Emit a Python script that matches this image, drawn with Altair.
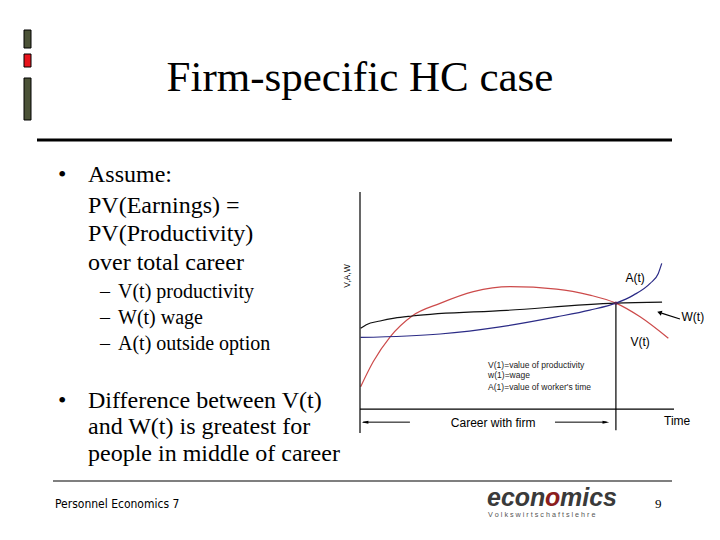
import altair as alt
import pandas as pd

# ---------------- data ----------------
v_t = [0.2, 4.2, 9.6, 16.6, 25.5, 36.1, 47.8, 62.6, 73.2, 81.5, 89.2, 98.2]
v_val = [10.3, 21.8, 33.3, 42.9, 48.7, 54.1, 56.4, 55.3, 52.5, 48.8, 42.5, 32.6]
w_t = [0.2, 2.0, 6.4, 11.0, 16.6, 46.7, 81.5, 96.2]
w_val = [37.2, 38.9, 40.6, 41.9, 42.9, 45.5, 48.8, 49.3]
a_t = [0.2, 25.5, 44.6, 62.6, 73.2, 81.5, 87.1, 92.4, 95.0, 96.1]
a_val = [33.0, 34.6, 37.9, 42.5, 45.6, 48.8, 52.5, 57.9, 62.5, 67.1]
series_names = ["V", "W", "A"]
series_colors = ["#cc4a4a", "#111111", "#2b2b86"]
retire_t = 81.5
retire_v = 48.8
legend_lines = ["V(1)=value of productivity", "w(1)=wage", "A(1)=value of worker's time"]
bullet_main = ["Assume:", "PV(Earnings) =", "PV(Productivity)", "over total career"]
bullet_sub = ["V(t) productivity", "W(t) wage", "A(t) outside option"]
bullet_end = ["Difference between V(t)", "and W(t) is greatest for", "people in middle of career"]

rows = []
for name, ts, vs in [("V", v_t, v_val), ("W", w_t, w_val), ("A", a_t, a_val)]:
    for t, v in zip(ts, vs):
        rows.append({"series": name, "t": t, "val": v})
curves_df = pd.DataFrame(rows)

# plot area on the page: x 360..674, y 192..433
PX0, PY0 = 360, 192
W, H = 314, 241
xs = alt.Scale(domain=[0, 100], nice=False, zero=False)
ys = alt.Scale(domain=[-11, 100], nice=False, zero=False)

SERIF = "Liberation Serif"
SANS = "Liberation Sans"
NARROW = "Liberation Sans Narrow, DejaVu Sans Condensed, Liberation Sans"

empty = alt.Data(values=[{}])


def px(x):
    return alt.value(x - PX0)


def py(y):
    return alt.value(y - PY0)


def XD(v):
    return alt.XDatum(v, scale=xs, axis=None)


def YD(v):
    return alt.YDatum(v, scale=ys, axis=None)


def page_text(txt, x, y, size, font=SERIF, align="left", color="black", weight="normal", style="normal", angle=0,
              baseline="alphabetic"):
    return alt.Chart(empty).mark_text(
        text=txt, font=font, fontSize=size, align=align, baseline=baseline,
        color=color, fontWeight=weight, fontStyle=style, angle=angle
    ).encode(x=px(x), y=py(y))


def data_text(txt, t, v, size=12, align="center", color="black", baseline="middle"):
    return alt.Chart(empty).mark_text(
        text=txt, font=SANS, fontSize=size, align=align, baseline=baseline, color=color
    ).encode(x=XD(t), y=YD(v))


layers = []

# curves
curves = alt.Chart(curves_df).mark_line(interpolate="monotone", strokeWidth=1.2).encode(
    x=alt.X("t:Q", scale=xs, axis=None),
    y=alt.Y("val:Q", scale=ys, axis=None),
    color=alt.Color("series:N", scale=alt.Scale(domain=series_names, range=series_colors), legend=None),
)
layers.append(curves)

# y axis line
layers.append(alt.Chart(empty).mark_rule(color="black", strokeWidth=1.2).encode(
    x=XD(0), y=YD(-11), y2=alt.Y2Datum(100)))
layers.append(page_text("V,A,W", 347, 276, 8.5, font=SANS, align="center", angle=270, baseline="middle"))
# x axis line
layers.append(alt.Chart(empty).mark_rule(color="black", strokeWidth=1.2).encode(
    x=XD(0), x2=alt.X2Datum(100), y=YD(0)))
# retirement vertical line
layers.append(alt.Chart(empty).mark_rule(color="black", strokeWidth=1.2).encode(
    x=XD(retire_t), y=YD(retire_v), y2=alt.Y2Datum(-9.7)))
# career arrows
layers.append(alt.Chart(empty).mark_rule(color="black", strokeWidth=1).encode(
    x=XD(1.0), x2=alt.X2Datum(15.9), y=YD(-6)))
layers.append(alt.Chart(empty).mark_rule(color="black", strokeWidth=1).encode(
    x=XD(62.1), x2=alt.X2Datum(78.5), y=YD(-6)))
layers.append(alt.Chart(empty).mark_point(shape="M-1,0L1,-0.45L1,0.45Z", filled=True, size=45,
                                          color="black", opacity=1).encode(x=XD(1.6), y=YD(-6)))
layers.append(alt.Chart(empty).mark_point(shape="M1,0L-1,-0.45L-1,0.45Z", filled=True, size=45,
                                          color="black", opacity=1).encode(x=XD(78.3), y=YD(-6)))
# W(t) pointer arrow
layers.append(alt.Chart(empty).mark_rule(color="black", strokeWidth=1.2).encode(
    x=XD(101.9), y=YD(41.5), x2=alt.X2Datum(96.0), y2=alt.Y2Datum(44.2)))
layers.append(alt.Chart(empty).mark_point(shape="triangle", filled=True, size=28, angle=287,
                                          color="black", opacity=1).encode(x=XD(95.6), y=YD(44.4)))
# intersection dot
layers.append(alt.Chart(empty).mark_point(filled=True, size=10, color="#552255", opacity=1).encode(
    x=XD(retire_t), y=YD(retire_v)))

# chart labels
layers.append(data_text("A(t)", 87.6, 60.4, 12))
layers.append(data_text("W(t)", 106.0, 42.4, 12))
layers.append(data_text("V(t)", 89.2, 30.9, 12))
layers.append(data_text("Time", 101.0, -5.5, 12))
layers.append(data_text("Career with firm", 42.4, -6.6, 12))
for i, line in enumerate(legend_lines):
    layers.append(data_text(line, 40.8, [20.3, 15.7, 10.1][i], 8.5, align="left", color="#222222"))

# ---------------- slide decoration ----------------
for (y1, y2, col) in [(30, 48, "#4b5237"), (54, 67, "#e8141c"), (78, 120, "#4b5237")]:
    layers.append(alt.Chart(empty).mark_rect(fill=col, stroke="black", strokeWidth=1).encode(
        x=px(24), x2=px(31), y=py(y1), y2=py(y2)))

layers.append(page_text("Firm-specific HC case", 360, 91, 43, align="center"))
layers.append(alt.Chart(empty).mark_rule(color="black", strokeWidth=3).encode(
    x=px(37), x2=px(672), y=py(140)))

main_base = [182, 213, 241, 270]
for i, line in enumerate(bullet_main):
    layers.append(page_text(line, 88, main_base[i], 24))
layers.append(page_text("•", 58, 182, 24))
sub_base = [298, 324, 350]
for i, line in enumerate(bullet_sub):
    layers.append(page_text("–", 100, sub_base[i], 20))
    layers.append(page_text(line, 118, sub_base[i], 20))
end_base = [408, 434, 461]
for i, line in enumerate(bullet_end):
    layers.append(page_text(line, 88, end_base[i], 24))
layers.append(page_text("•", 58, 408, 24))

# footer
layers.append(alt.Chart(empty).mark_rule(color="#555555", strokeWidth=1.5).encode(
    x=px(53), x2=px(672), y=py(481)))
layers.append(page_text("Personnel Economics 7", 55, 508, 12, font=NARROW))
layers.append(page_text("econ", 487, 506, 25, font=SANS, color="#3a3a3a", weight="bold", style="italic"))
layers.append(page_text("o", 545, 506, 25, font=SANS, color="#8b1e1e", weight="bold", style="italic"))
layers.append(page_text("mics", 560, 506, 25, font=SANS, color="#3a3a3a", weight="bold", style="italic"))
layers.append(page_text("V o l k s w i r t s c h a f t s l e h r e", 488, 517, 7.2, font=SANS, color="#555555"))
layers.append(page_text("9", 655, 508, 13, font=SERIF))

chart = alt.layer(*layers).properties(
    width=W, height=H,
    padding={"left": PX0 - 8, "top": PY0 - 8, "right": 30, "bottom": 90},
    autosize=alt.AutoSizeParams(type="none"),
    background="white",
).configure_view(stroke=None)

chart.save("out.html", embed_options={"renderer": "svg", "actions": False})
